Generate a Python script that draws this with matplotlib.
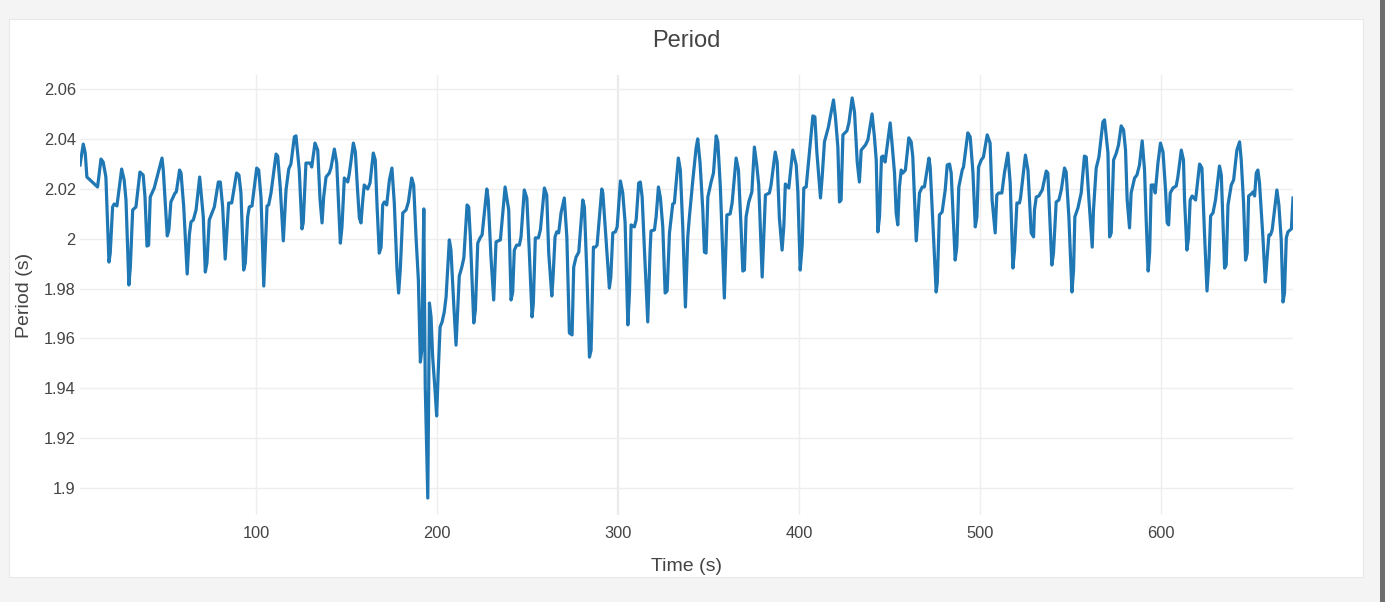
import matplotlib.pyplot as plt
from matplotlib.patches import Rectangle
from matplotlib.ticker import FixedLocator, FuncFormatter

plt.rcParams['font.family'] = ['Liberation Sans', 'DejaVu Sans']

TEXT = '#444444'
GRID = '#eeeeee'
LINE = '#1f77b4'

time_s = [
    2.8, 4.6, 5.7, 6.6, 12.5, 14.4, 15.6, 17.1, 18.8, 19.5, 20.8, 21.7, 23.2,
    25.8, 27.2, 28.2, 29.8, 30.6, 31.9, 33.7, 35.9, 37.7, 38.7, 39.8, 40.7,
    41.6, 43.8, 48.1, 48.8, 51.0, 51.9, 53.0, 55.3, 56.0, 57.8, 58.6, 60.1,
    62.0, 63.2, 64.1, 65.4, 66.9, 68.9, 70.9, 72.0, 72.9, 74.2, 77.0, 79.2,
    80.3, 81.6, 83.0, 84.9, 86.6, 89.3, 90.6, 91.7, 93.2, 94.1, 95.4, 96.3,
    97.8, 100.4, 101.5, 102.8, 104.3, 106.1, 107.0, 108.3, 111.1, 112.0,
    113.4, 115.1, 116.6, 118.1, 119.3, 121.2, 122.1, 123.9, 125.4, 126.1,
    127.6, 130.0, 130.8, 132.6, 134.1, 135.4, 136.5, 137.4, 138.7, 140.5,
    141.4, 143.3, 144.6, 145.7, 146.6, 147.5, 148.8, 150.7, 151.6, 153.8,
    154.9, 156.0, 157.1, 158.0, 159.0, 159.8, 161.7, 163.0, 164.8, 165.9,
    166.9, 168.1, 169.1, 170.0, 170.9, 172.2, 173.7, 175.1, 176.4, 177.9,
    178.8, 179.7, 181.1, 182.9, 184.2, 186.0, 187.1, 188.4, 189.7, 190.8,
    191.6, 192.7, 193.5, 194.9, 195.8, 196.7, 197.6, 198.9, 199.8, 200.7,
    201.7, 202.8, 204.0, 205.0, 206.8, 207.7, 209.2, 210.5, 211.4, 212.3,
    213.7, 214.8, 216.6, 217.5, 218.4, 220.3, 221.2, 222.5, 223.8, 224.9,
    227.5, 228.3, 229.8, 231.3, 232.6, 235.0, 237.6, 239.6, 240.9, 241.8,
    242.7, 244.0, 245.5, 246.4, 248.2, 249.6, 251.0, 252.5, 253.2, 254.3,
    256.0, 257.1, 259.3, 260.6, 261.7, 263.4, 264.1, 265.2, 266.1, 267.2,
    268.5, 270.3, 271.7, 273.1, 274.6, 275.5, 276.8, 278.3, 280.5, 281.4,
    282.7, 284.2, 285.1, 286.4, 287.5, 288.4, 291.0, 291.6, 293.0, 295.2,
    296.0, 297.1, 298.5, 299.5, 301.3, 302.6, 303.9, 305.4, 306.3, 307.2,
    309.0, 310.0, 311.4, 312.3, 313.3, 314.5, 316.4, 317.7, 318.2, 320.1,
    321.0, 322.3, 323.4, 324.7, 326.0, 327.1, 328.4, 330.2, 331.1, 333.3,
    334.4, 335.8, 337.2, 338.5, 339.4, 341.3, 343.1, 344.0, 345.3, 346.8,
    347.7, 348.6, 349.6, 351.4, 352.7, 354.2, 355.1, 356.5, 358.7, 360.1,
    361.9, 363.0, 365.2, 366.5, 368.0, 368.9, 369.8, 370.7, 372.2, 373.9,
    375.3, 376.6, 377.7, 379.6, 380.3, 381.4, 383.6, 384.5, 386.8, 387.9,
    389.1, 390.6, 391.6, 392.4, 394.3, 396.5, 398.4, 399.3, 400.6, 401.7,
    402.6, 403.9, 405.4, 407.6, 408.7, 409.8, 411.8, 412.7, 414.0, 416.2,
    417.1, 419.0, 420.1, 421.4, 422.3, 423.2, 424.2, 426.4, 427.5, 429.3,
    430.6, 432.1, 433.3, 434.3, 436.6, 438.0, 440.3, 441.6, 442.6, 443.5,
    444.4, 445.5, 446.3, 447.5, 450.3, 451.4, 452.7, 453.6, 454.5, 455.4,
    456.4, 457.3, 458.7, 460.6, 461.9, 462.8, 464.7, 465.6, 466.5, 468.0,
    469.2, 471.7, 472.4, 473.9, 475.7, 476.3, 477.5, 479.0, 480.7, 481.8,
    483.1, 484.0, 485.3, 486.2, 487.1, 488.2, 490.1, 490.8, 493.2, 494.5,
    496.0, 497.3, 498.2, 499.1, 500.6, 501.8, 503.9, 505.5, 506.6, 508.3,
    509.2, 510.3, 512.0, 513.4, 515.3, 516.6, 518.1, 519.0, 520.3, 521.7,
    522.3, 525.0, 526.4, 528.2, 529.5, 530.0, 531.0, 532.4, 534.3, 536.5,
    537.4, 538.3, 539.6, 540.5, 542.0, 543.5, 544.8, 546.6, 547.5, 549.0,
    550.7, 551.6, 552.3, 554.0, 555.8, 557.6, 558.6, 560.1, 561.9, 562.6,
    564.1, 565.6, 567.8, 568.7, 570.6, 571.5, 572.4, 573.7, 575.2, 576.4,
    577.9, 579.2, 580.3, 581.2, 582.5, 583.4, 585.3, 586.6, 588.0, 589.5,
    590.8, 591.7, 592.8, 593.6, 594.5, 595.8, 596.7, 598.2, 599.6, 601.0,
    602.4, 603.3, 604.1, 605.0, 606.5, 608.3, 609.2, 611.1, 612.3, 612.9,
    614.2, 615.1, 616.0, 617.1, 619.0, 621.2, 622.5, 623.9, 625.3, 626.4,
    627.3, 628.6, 630.0, 632.2, 633.2, 635.0, 635.9, 636.9, 638.7, 640.0,
    641.8, 643.3, 644.2, 645.5, 646.6, 647.5, 648.3, 649.7, 650.7, 651.6,
    652.5, 653.4, 654.3, 656.2, 657.5, 658.4, 659.5, 660.4, 661.3, 663.9,
    665.0, 666.3, 667.3, 668.1, 669.1, 670.0, 671.9, 672.8,
]

period_s = [
    2.0295, 2.0379, 2.0343, 2.0247, 2.0207, 2.0319, 2.0307, 2.0247, 1.9906,
    1.9942, 2.0127, 2.0139, 2.0131, 2.0279, 2.0235, 2.0155, 1.9814, 1.9886,
    2.0115, 2.0127, 2.0267, 2.0255, 2.0167, 1.9970, 1.9974, 2.0167, 2.0203,
    2.0323, 2.0275, 2.0011, 2.0035, 2.0147, 2.0183, 2.0187, 2.0275, 2.0263,
    2.0127, 1.9858, 2.0015, 2.0067, 2.0075, 2.0115, 2.0247, 2.0087, 1.9866,
    1.9902, 2.0075, 2.0127, 2.0227, 2.0227, 2.0127, 1.9918, 2.0143, 2.0143,
    2.0263, 2.0255, 2.0183, 1.9874, 1.9902, 2.0087, 2.0127, 2.0131, 2.0283,
    2.0275, 2.0163, 1.9810, 2.0131, 2.0135, 2.0183, 2.0339, 2.0331, 2.0207,
    1.9991, 2.0195, 2.0279, 2.0299, 2.0408, 2.0412, 2.0275, 2.0039, 2.0063,
    2.0303, 2.0303, 2.0287, 2.0383, 2.0355, 2.0155, 2.0063, 2.0167, 2.0247,
    2.0263, 2.0283, 2.0359, 2.0303, 2.0127, 1.9982, 2.0047, 2.0243, 2.0227,
    2.0263, 2.0383, 2.0347, 2.0207, 2.0083, 2.0063, 2.0155, 2.0215, 2.0199,
    2.0223, 2.0343, 2.0315, 2.0127, 1.9942, 1.9966, 2.0135, 2.0147, 2.0135,
    2.0235, 2.0283, 2.0143, 1.9874, 1.9782, 1.9874, 2.0103, 2.0115, 2.0147,
    2.0243, 2.0215, 2.0007, 1.9834, 1.9505, 1.9553, 2.0119, 1.9405, 1.8960,
    1.9742, 1.9686, 1.9525, 1.9393, 1.9289, 1.9473, 1.9646, 1.9666, 1.9706,
    1.9766, 1.9995, 1.9954, 1.9742, 1.9573, 1.9714, 1.9850, 1.9886, 1.9922,
    2.0135, 2.0127, 2.0007, 1.9662, 1.9714, 1.9982, 2.0003, 2.0015, 2.0199,
    2.0155, 1.9926, 1.9754, 1.9987, 1.9995, 2.0207, 2.0115, 1.9754, 1.9786,
    1.9954, 1.9974, 1.9974, 2.0007, 2.0195, 2.0163, 1.9942, 1.9686, 1.9742,
    2.0003, 2.0003, 2.0035, 2.0203, 2.0175, 1.9942, 1.9770, 1.9846, 2.0007,
    2.0027, 2.0023, 2.0103, 2.0163, 2.0007, 1.9622, 1.9614, 1.9886, 1.9926,
    1.9946, 2.0155, 2.0127, 1.9874, 1.9525, 1.9553, 1.9966, 1.9966, 1.9974,
    2.0199, 2.0183, 2.0035, 1.9802, 1.9846, 2.0023, 2.0027, 2.0047, 2.0231,
    2.0183, 2.0063, 1.9654, 1.9782, 2.0055, 2.0047, 2.0075, 2.0223, 2.0227,
    2.0167, 1.9966, 1.9666, 1.9954, 2.0031, 2.0035, 2.0087, 2.0207, 2.0163,
    2.0047, 1.9782, 1.9790, 2.0023, 2.0139, 2.0143, 2.0323, 2.0275, 2.0035,
    1.9726, 2.0007, 2.0087, 2.0235, 2.0363, 2.0400, 2.0303, 2.0115, 1.9946,
    1.9942, 2.0167, 2.0227, 2.0263, 2.0412, 2.0388, 2.0207, 1.9762, 2.0095,
    2.0099, 2.0143, 2.0323, 2.0275, 2.0035, 1.9870, 1.9874, 2.0087, 2.0147,
    2.0187, 2.0367, 2.0295, 2.0215, 1.9846, 1.9974, 2.0175, 2.0183, 2.0215,
    2.0347, 2.0307, 2.0083, 1.9954, 2.0055, 2.0219, 2.0203, 2.0355, 2.0295,
    2.0187, 1.9874, 1.9974, 2.0203, 2.0207, 2.0323, 2.0492, 2.0488, 2.0347,
    2.0163, 2.0243, 2.0388, 2.0448, 2.0484, 2.0556, 2.0484, 2.0367, 2.0147,
    2.0155, 2.0416, 2.0432, 2.0464, 2.0564, 2.0508, 2.0307, 2.0227, 2.0355,
    2.0375, 2.0396, 2.0500, 2.0408, 2.0315, 2.0027, 2.0087, 2.0327, 2.0331,
    2.0307, 2.0464, 2.0375, 2.0263, 2.0103, 2.0055, 2.0207, 2.0275, 2.0263,
    2.0275, 2.0404, 2.0388, 2.0327, 1.9991, 2.0087, 2.0183, 2.0207, 2.0207,
    2.0323, 2.0287, 2.0063, 1.9786, 1.9822, 2.0095, 2.0107, 2.0195, 2.0295,
    2.0299, 2.0263, 2.0055, 1.9914, 1.9966, 2.0207, 2.0275, 2.0287, 2.0424,
    2.0408, 2.0267, 2.0047, 2.0087, 2.0287, 2.0315, 2.0327, 2.0416, 2.0383,
    2.0155, 2.0023, 2.0175, 2.0183, 2.0183, 2.0263, 2.0343, 2.0223, 1.9882,
    1.9954, 2.0143, 2.0143, 2.0163, 2.0335, 2.0275, 2.0023, 2.0007, 2.0115,
    2.0167, 2.0171, 2.0195, 2.0271, 2.0263, 2.0115, 1.9894, 1.9942, 2.0147,
    2.0155, 2.0195, 2.0283, 2.0267, 2.0087, 1.9786, 1.9874, 2.0087, 2.0123,
    2.0183, 2.0331, 2.0327, 2.0155, 1.9966, 2.0115, 2.0283, 2.0327, 2.0468,
    2.0476, 2.0343, 2.0007, 2.0023, 2.0315, 2.0343, 2.0375, 2.0452, 2.0436,
    2.0355, 2.0155, 2.0043, 2.0183, 2.0243, 2.0255, 2.0295, 2.0392, 2.0275,
    2.0075, 1.9870, 1.9942, 2.0215, 2.0215, 2.0183, 2.0303, 2.0383, 2.0347,
    2.0195, 2.0063, 2.0055, 2.0183, 2.0203, 2.0211, 2.0247, 2.0355, 2.0315,
    2.0155, 1.9954, 2.0003, 2.0155, 2.0171, 2.0155, 2.0299, 2.0283, 2.0023,
    1.9790, 1.9914, 2.0091, 2.0103, 2.0155, 2.0291, 2.0255, 1.9882, 1.9894,
    2.0135, 2.0215, 2.0235, 2.0355, 2.0388, 2.0315, 2.0143, 1.9914, 1.9942,
    2.0171, 2.0179, 2.0187, 2.0171, 2.0263, 2.0275, 2.0223, 2.0003, 1.9826,
    1.9914, 2.0015, 2.0015, 2.0035, 2.0195, 2.0135, 1.9995, 1.9746, 1.9782,
    2.0003, 2.0027, 2.0039, 2.0163,
]

x_ticks = [100, 200, 300, 400, 500, 600]
y_ticks = [1.90, 1.92, 1.94, 1.96, 1.98, 2.00, 2.02, 2.04, 2.06]

W, H = 1385, 602
fig = plt.figure(figsize=(W / 100, H / 100), dpi=100)
fig.patch.set_facecolor('#f4f4f4')

# white card behind the chart, and the scrollbar strip at the right
fig.patches.append(Rectangle((9 / W, 25 / H), 1354 / W, 558 / H,
                             transform=fig.transFigure, facecolor='white',
                             edgecolor='#e8e8e8', lw=0.8, zorder=-10))
fig.patches.append(Rectangle((1380 / W, 0), 5 / W, 1,
                             transform=fig.transFigure, facecolor='#6e6e6e',
                             edgecolor='none', zorder=-10))

ax = fig.add_axes([80 / W, 87 / H, 1213 / W, 440 / H])
ax.set_zorder(5)
ax.set_facecolor('white')
ax.plot(time_s, period_s, color=LINE, lw=2.3, solid_joinstyle='round', zorder=3)

ax.set_xlim(min(time_s), max(time_s))
ax.set_ylim(1.8892, 2.0656)

ax.xaxis.set_major_locator(FixedLocator(x_ticks))
ax.yaxis.set_major_locator(FixedLocator(y_ticks))
ax.yaxis.set_major_formatter(FuncFormatter(lambda v, _: f'{v:g}'))
ax.grid(True, color=GRID, lw=1.0, zorder=0)
ax.axvline(300, color='#e6e6e6', lw=1.5, zorder=1)
for s in ax.spines.values():
    s.set_visible(False)
ax.tick_params(axis='both', length=0, labelsize=11.8, colors=TEXT)
ax.tick_params(axis='x', pad=8)
ax.tick_params(axis='y', pad=3)

ax.set_xlabel('Time (s)', fontsize=14, color=TEXT, labelpad=12)
ax.set_ylabel('Period (s)', fontsize=14, color=TEXT, labelpad=8)
fig.text(686 / W, 1 - 41 / H, 'Period', fontsize=17, color=TEXT,
         ha='center', va='center')

fig.savefig('out.png', dpi=100, facecolor=fig.get_facecolor())
